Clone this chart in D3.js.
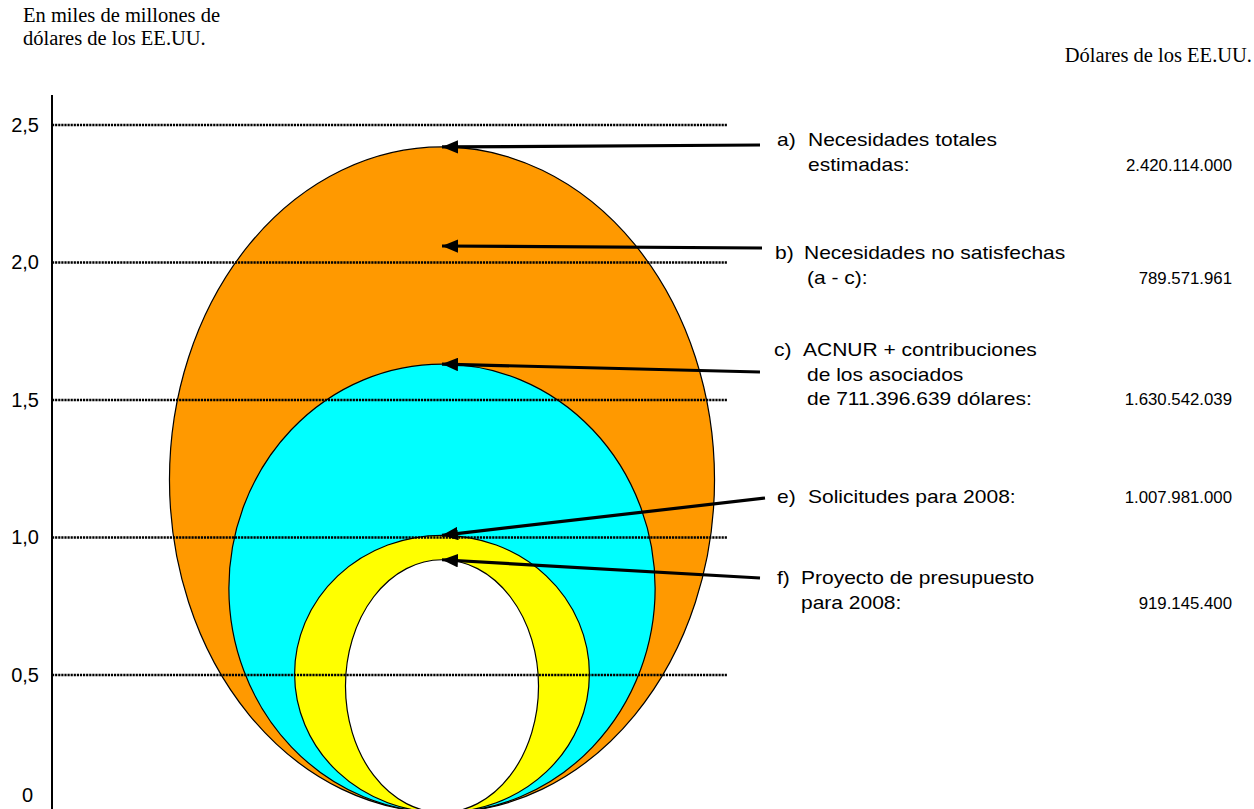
<!DOCTYPE html>
<html>
<head>
<meta charset="utf-8">
<script src="https://cdn.jsdelivr.net/npm/d3@7"></script>
<style>
  body { margin: 0; background: #fff; }
  .serif { font-family: "Liberation Serif", "Times New Roman", serif; font-size: 20.5px; }
  .sans { font-family: "Liberation Sans", Arial, sans-serif; font-size: 17.5px; }
  .tick text { font-family: "Liberation Sans", Arial, sans-serif; font-size: 20px; }
</style>
</head>
<body>
<script>
const width = 1254,
    height = 809;

// values in billions of US dollars
const names = ["a", "c", "e", "f"];
const values = [2.420114, 1.630542039, 1.007981, 0.9191454];
// half widths of the ellipses, same unit
const halfWidths = [0.991, 0.775, 0.536, 0.351];
const fills = ["#ff9900", "#00ffff", "#ffff00", "#ffffff"];

const tickValues = [0, 0.5, 1.0, 1.5, 2.0, 2.5];

// labels: text lines, value where arrow points, amount text
const labelKeys = ["a)", "b)", "c)", "e)", "f)"];
const labelLines = [
  ["Necesidades totales", "estimadas:"],
  ["Necesidades no satisfechas", "(a - c):"],
  ["ACNUR + contribuciones", "de los asociados", "de 711.396.639 dólares:"],
  ["Solicitudes para 2008:"],
  ["Proyecto de presupuesto", "para 2008:"]
];
const arrowTo = [2.420114, 2.06, 1.6305, 1.008, 0.919];
const amounts = ["2.420.114.000", "789.571.961", "1.630.542.039", "1.007.981.000", "919.145.400"];

const svg = d3.select('body').append('svg')
    .attr('width', width)
    .attr('height', height);

const y = d3.scaleLinear().domain([0, 2.5]).range([812.5, 125]);
const x = d3.scaleLinear().domain([-1, 1]).range([442 - 275, 442 + 275]);
const axisX = 52;

svg.append("defs").append("marker")
    .attr("id", "head")
    .attr("viewBox", "0 0 10 10")
    .attr("refX", 10).attr("refY", 5)
    .attr("markerWidth", 5).attr("markerHeight", 4.2)
    .attr("markerUnits", "strokeWidth")
    .attr("orient", "auto")
    .attr("preserveAspectRatio", "none")
  .append("path")
    .attr("d", "M0,0L10,5L0,10Z")
    .attr("fill", "black");

// ellipses, biggest first
svg.append("g").selectAll("ellipse")
    .data(values)
    .enter().append("ellipse")
    .attr("cx", x(0))
    .attr("cy", d => y(d / 2))
    .attr("rx", (d, i) => x(halfWidths[i]) - x(0))
    .attr("ry", d => y(0) - y(d / 2))
    .attr("fill", (d, i) => fills[i])
    .attr("stroke", "black")
    .attr("stroke-width", 1.2);

// dotted grid lines
svg.append("g").selectAll("line")
    .data(tickValues.filter(d => d > 0))
    .enter().append("line")
    .attr("x1", axisX).attr("x2", 727)
    .attr("y1", d => y(d)).attr("y2", d => y(d))
    .attr("stroke", "black")
    .attr("stroke-width", 2.6)
    .attr("stroke-dasharray", "2.2,0.9");

// axis
const axis = d3.axisLeft(y)
    .tickValues(tickValues)
    .tickSize(0)
    .tickPadding(13)
    .tickFormat(d => d === 0 ? "0" : d3.format(".1f")(d).replace(".", ","));

const gAxis = svg.append("g")
    .attr("transform", "translate(" + axisX + ",0)")
    .call(axis)
    .attr("font-size", null)
    .attr("font-family", null);
gAxis.select(".domain").remove();
gAxis.selectAll("text")
    .attr("fill", "black")
    .attr("dx", d => d === 0 ? -6 : 0)
    .attr("dy", d => d === 0 ? "-0.55em" : "0.32em");

svg.append("line")
    .attr("x1", axisX).attr("x2", axisX)
    .attr("y1", 95).attr("y2", height)
    .attr("stroke", "black")
    .attr("stroke-width", 2);

// arrows
const tails = [[760, 145], [762, 248], [760, 372], [765, 498], [760, 578]];
svg.append("g").selectAll("line")
    .data(arrowTo)
    .enter().append("line")
    .attr("x1", (d, i) => tails[i][0])
    .attr("y1", (d, i) => tails[i][1])
    .attr("x2", x(0))
    .attr("y2", d => y(d))
    .attr("stroke", "black")
    .attr("stroke-width", 3.2)
    .attr("marker-end", "url(#head)");

// labels (stretched a bit wider, as in the original)
const labelTop = [146, 259, 356, 503, 584];
const keyX = [777, 775, 774, 777, 777];
const lineX = [[808, 808], [804, 807], [803, 807, 807], [808], [801, 801]];
const lg = svg.append("g").attr("class", "sans");
function stretched(tx, ty, t, sx) {
  return lg.append("text")
    .attr("transform", "translate(" + tx + "," + ty + ") scale(" + sx + ",1)")
    .text(t);
}
labelKeys.forEach((k, i) => {
  stretched(keyX[i], labelTop[i], k, 1.2);
  labelLines[i].forEach((t, j) => {
    stretched(lineX[i][j], labelTop[i] + j * 24.5, t, 1.2);
  });
  stretched(1232, labelTop[i] + (labelLines[i].length - 1) * 24.5, amounts[i], 1)
    .attr("text-anchor", "end")
    .style("font-size", "16.8px");
});

// unit titles
svg.append("text").attr("class", "serif").attr("x", 23).attr("y", 22).text("En miles de millones de");
svg.append("text").attr("class", "serif").attr("x", 23).attr("y", 45).text("dólares de los EE.UU.");
svg.append("text").attr("class", "serif").attr("x", 1252).attr("y", 62)
    .attr("text-anchor", "end").text("Dólares de los EE.UU.");
</script>
</body>
</html>
